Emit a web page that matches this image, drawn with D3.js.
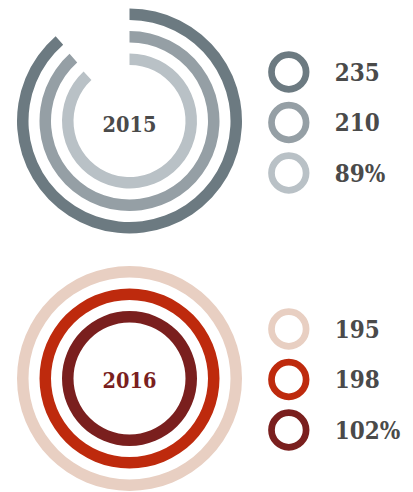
<!DOCTYPE html>
<html>
<head>
<meta charset="utf-8">
<script src="https://cdn.jsdelivr.net/npm/d3@7"></script>
<style>
  html, body { margin: 0; padding: 0; background: #fff; }
  svg { display: block; }
</style>
</head>
<body>
<svg id="chart"></svg>
<script>
// data
const years = ['2015', '2016'];
const labels2015 = ['235', '210', '89%'];
const fractions2015 = [0.886, 0.884, 0.881];
const colors2015 = ['#6c7a81', '#959fa5', '#b9c1c6'];
const labels2016 = ['195', '198', '102%'];
const fractions2016 = [1, 1, 1];
const colors2016 = ['#e8cfc2', '#be2a0d', '#7a1f1e'];
const yearColors = ['#4a4a4a', '#7a1f1e'];

const width = 413;
const height = 492;

const svg = d3.select('#chart')
  .attr('width', width)
  .attr('height', height)
  .attr('viewBox', `0 0 ${width} ${height}`);

const angle = d3.scaleLinear().domain([0, 1]).range([0, 2 * Math.PI]);
const ringOuter = d3.scaleLinear().domain([0, 1]).range([112.5, 90]);
const ringWidth = 11.5;

const arc = d3.arc()
  .innerRadius(i => ringOuter(i) - ringWidth)
  .outerRadius(i => ringOuter(i))
  .startAngle(0);

const groups = [
  { year: years[0], labels: labels2015, fractions: fractions2015, colors: colors2015, cy: 121, ly: 72 },
  { year: years[1], labels: labels2016, fractions: fractions2016, colors: colors2016, cy: 378.5, ly: 329 }
];

const fontFamily = '"DejaVu Serif Condensed", "DejaVu Serif", serif';

groups.forEach((grp, gi) => {
  const g = svg.append('g').attr('transform', `translate(129.5,${grp.cy})`);

  grp.fractions.forEach((f, i) => {
    g.append('path')
      .attr('fill', grp.colors[i])
      .attr('d', arc.endAngle(angle(f))(i));
  });

  g.append('text')
    .attr('x', 0)
    .attr('y', 0)
    .attr('dy', gi === 0 ? 11 : 9.5)
    .attr('text-anchor', 'middle')
    .attr('font-family', fontFamily)
    .attr('font-stretch', 'condensed')
    .attr('font-weight', 'bold')
    .attr('font-size', '21.5px')
    .attr('fill', yearColors[gi])
    .text(grp.year);

  // legend
  const legend = svg.append('g').attr('transform', `translate(288.8,${grp.ly})`);
  grp.labels.forEach((lab, i) => {
    const row = legend.append('g').attr('transform', `translate(0,${i * 50.5})`);
    row.append('circle')
      .attr('r', 17.3)
      .attr('fill', 'none')
      .attr('stroke', grp.colors[i])
      .attr('stroke-width', 6.7);
    row.append('text')
      .attr('x', 46)
      .attr('y', 8.5)
      .attr('font-family', fontFamily)
      .attr('font-stretch', 'condensed')
      .attr('font-weight', 'bold')
      .attr('font-size', '24px')
      .attr('fill', '#4a4a4a')
      .text(lab);
  });
});
</script>
</body>
</html>
